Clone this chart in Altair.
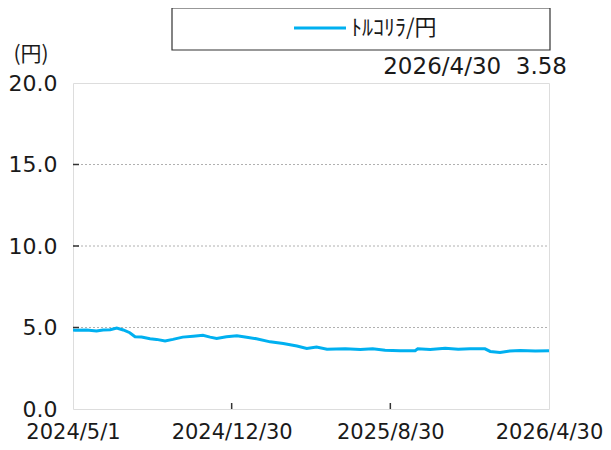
import altair as alt
import pandas as pd

# ---- data ----
dates = [
    "2024/05/01", "2024/05/04", "2024/05/22", "2024/06/06", "2024/06/16", "2024/06/27",
    "2024/07/07", "2024/07/17", "2024/07/27", "2024/08/04", "2024/08/14", "2024/08/27",
    "2024/09/06", "2024/09/19", "2024/10/01", "2024/10/16", "2024/11/01", "2024/11/16",
    "2024/11/27", "2024/12/07", "2024/12/22", "2025/01/07", "2025/01/22", "2025/02/06",
    "2025/02/27", "2025/03/19", "2025/04/09", "2025/04/24", "2025/05/09", "2025/05/25",
    "2025/06/22", "2025/07/15", "2025/08/03", "2025/08/22", "2025/09/14", "2025/10/07",
    "2025/10/11", "2025/10/30", "2025/11/22", "2025/12/12", "2025/12/30", "2026/01/22",
    "2026/01/30", "2026/02/14", "2026/03/01", "2026/03/17", "2026/04/09", "2026/04/30",
]
rates = [
    4.84, 4.83, 4.85, 4.78, 4.85, 4.86,
    4.97, 4.85, 4.68, 4.43, 4.42, 4.31,
    4.27, 4.17, 4.27, 4.41, 4.46, 4.52,
    4.41, 4.33, 4.43, 4.49, 4.40, 4.31,
    4.12, 4.02, 3.86, 3.72, 3.80, 3.67,
    3.69, 3.65, 3.69, 3.61, 3.57, 3.57,
    3.69, 3.65, 3.72, 3.66, 3.69, 3.69,
    3.53, 3.47, 3.56, 3.59, 3.56, 3.58,
]
x_tick_dates = ["2024/05/01", "2024/12/30", "2025/08/30", "2026/04/30"]
y_tick_values = [0, 5, 10, 15, 20]
series_name = "ﾄﾙｺﾘﾗ/円"
unit_label = "(円)"
last_label = "2026/4/30"

LINE_COLOR = "#00B0F0"
FONT = "DejaVu Sans"
CJK = "Noto Sans CJK JP"
W, H = 476, 326

df = pd.DataFrame({"date": dates, "rate": rates})
ticks_df = pd.DataFrame({"date": x_tick_dates[1:3]})
ygrid_df = pd.DataFrame({"v": y_tick_values[1:4]})
one = pd.DataFrame({"k": [0]})


def dt(s):
    y, m, d = (int(p) for p in s.split("/"))
    return alt.DateTime(year=y, month=m, date=d)


x_scale = alt.Scale(domain=[dt(x_tick_dates[0]), dt(x_tick_dates[-1])], nice=False)
y_scale = alt.Scale(domain=[0, 20], nice=False)

line = alt.Chart(df).mark_line(color=LINE_COLOR, strokeWidth=3, clip=True).encode(
    x=alt.X("date:T", scale=x_scale,
            axis=alt.Axis(values=[dt(s) for s in x_tick_dates],
                          format="%Y/%-m/%-d", title=None, grid=False, ticks=False,
                          domain=False, labelFont=FONT, labelFontSize=21,
                          labelColor="#1a1a1a", labelPadding=12, labelFlush=False,
                          labelOverlap=False)),
    y=alt.Y("rate:Q", scale=y_scale,
            axis=alt.Axis(values=y_tick_values, format=".1f", title=None, grid=False,
                          ticks=False, domain=False, labelFont=FONT, labelFontSize=22,
                          labelColor="#1a1a1a", labelPadding=16, labelFlush=False)),
)

grid = alt.Chart(ygrid_df).mark_rule(color="#b0b0b0", strokeDash=[2, 2], strokeWidth=1).encode(
    y=alt.Y("v:Q", scale=y_scale), x=alt.value(0), x2=alt.value(W)
)
yticks = alt.Chart(ygrid_df).mark_rule(color="#333333", strokeWidth=1.5).encode(
    y=alt.Y("v:Q", scale=y_scale), x=alt.value(0), x2=alt.value(6)
)
xticks = alt.Chart(ticks_df).mark_rule(color="#333333", strokeWidth=1.5).encode(
    x=alt.X("date:T", scale=x_scale), y=alt.value(H), y2=alt.value(H - 6)
)

legend_box = alt.Chart(one).mark_rect(fill="white", stroke="#333333", strokeWidth=1.2).encode(
    x=alt.value(99), x2=alt.value(477), y=alt.value(-75), y2=alt.value(-33)
)
legend_line = alt.Chart(one).mark_rule(color=LINE_COLOR, strokeWidth=3).encode(
    x=alt.value(221), x2=alt.value(273), y=alt.value(-55)
)
legend_text = alt.Chart(one).mark_text(align="left", baseline="middle", font=CJK,
                                       fontSize=22, color="#1a1a1a").encode(
    x=alt.value(278), y=alt.value(-55), text=alt.value(series_name)
)
last_text = alt.Chart(one).mark_text(align="right", baseline="middle", font=FONT,
                                     fontSize=23, color="#1a1a1a").encode(
    x=alt.value(494), y=alt.value(-16),
    text=alt.value(f"{last_label}\u00a0\u00a0{rates[-1]:.2f}")
)
unit_text = alt.Chart(one).mark_text(align="center", baseline="middle", font=CJK,
                                     fontSize=21, color="#1a1a1a").encode(
    x=alt.value(-42), y=alt.value(-28), text=alt.value(unit_label)
)

chart = alt.layer(
    grid, line, yticks, xticks, legend_box, legend_line, legend_text, last_text, unit_text
).properties(
    width=W, height=H,
    autosize=alt.AutoSizeParams(type="none"),
    padding={"left": 65, "top": 75, "right": 54, "bottom": 36},
).configure_view(stroke="#222222", strokeWidth=1.5).configure(background="white")

chart.save("out.html", embed_options={"renderer": "svg", "actions": False})
